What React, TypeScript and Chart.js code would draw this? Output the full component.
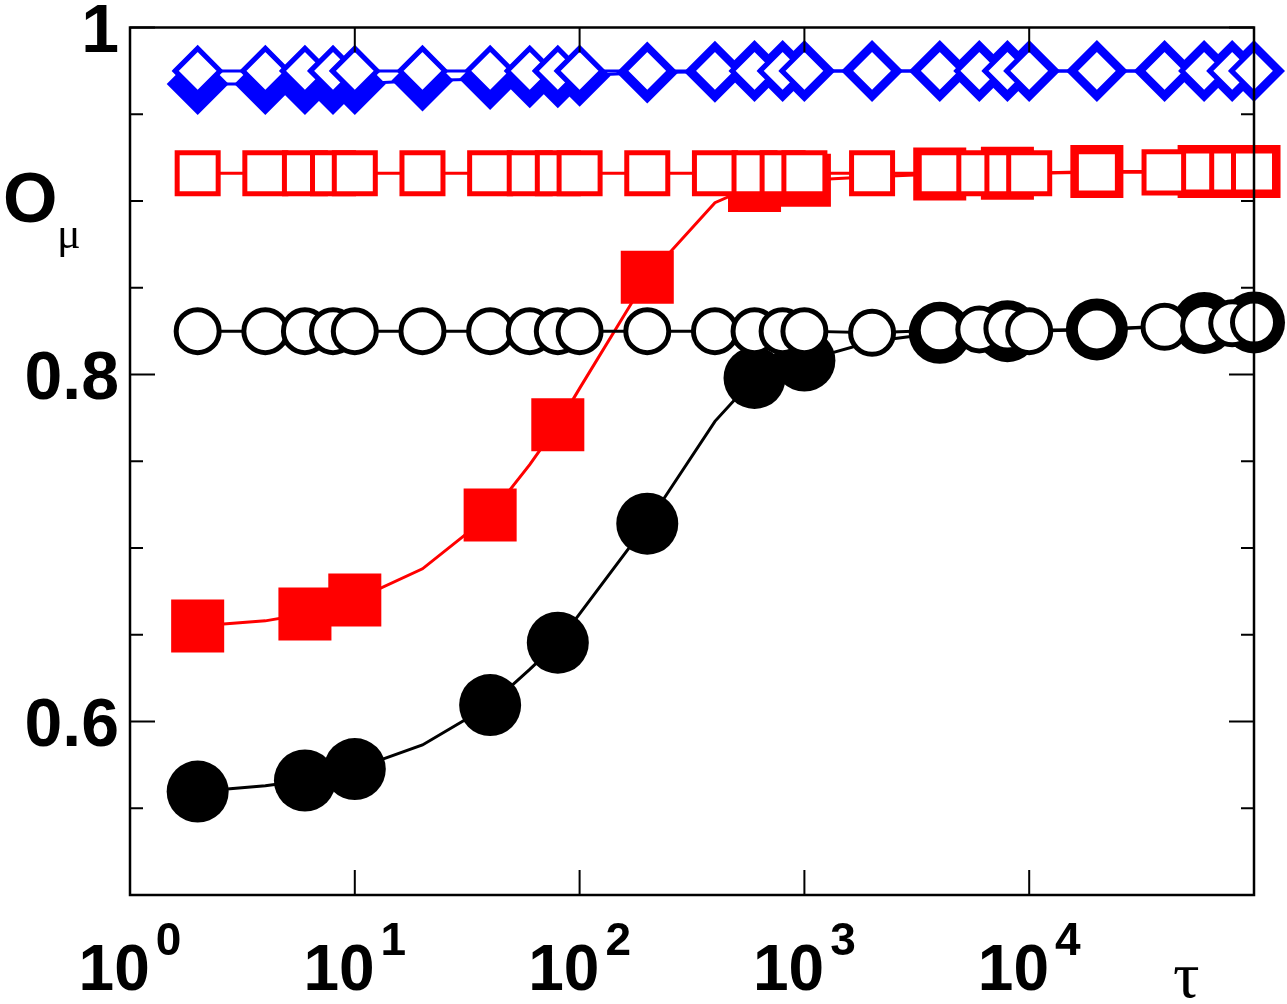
import React, { useEffect, useRef } from 'react';
import { Chart, registerables } from 'chart.js';
Chart.register(...registerables);

// ---- data ----
const tau = [2, 4, 6, 8, 10, 20, 40, 60, 80, 100, 200, 400, 600, 800, 1000, 2000, 4000, 6000, 8000, 10000, 20000, 40000, 60000, 80000, 100000];

const blueOpen = [0.975, 0.975, 0.975, 0.975, 0.975, 0.975, 0.975, 0.975, 0.975, 0.975, 0.975, 0.975, 0.975, 0.975, 0.975, 0.975, 0.975, 0.975, 0.975, 0.975, 0.975, 0.975, 0.975, 0.975, 0.975];
const blueFilled = [0.9675, 0.9675, 0.9675, 0.9675, 0.9675, 0.9694, 0.9703, 0.9713, 0.9713, 0.9722, 0.974, 0.9745, 0.975, 0.975, 0.975, 0.975, 0.975, 0.975, 0.975, 0.975, 0.975, 0.975, 0.975, 0.975, 0.975];

const redOpen = [0.916, 0.916, 0.916, 0.916, 0.916, 0.916, 0.916, 0.916, 0.916, 0.916, 0.916, 0.916, 0.916, 0.916, 0.916, 0.916, 0.916, 0.916, 0.916, 0.916, 0.9165, 0.9165, 0.917, 0.917, 0.917];
const redFilled = [0.655, 0.658, 0.662, 0.666, 0.67, 0.688, 0.719, 0.748, 0.771, 0.792, 0.856, 0.899, 0.909, 0.911, 0.912, 0.914, 0.9155, 0.916, 0.916, 0.916, 0.917, 0.917, 0.917, 0.917, 0.917];

const blackOpen = [0.825, 0.825, 0.825, 0.825, 0.825, 0.825, 0.825, 0.825, 0.825, 0.825, 0.825, 0.825, 0.825, 0.825, 0.825, 0.824, 0.8255, 0.826, 0.8265, 0.825, 0.826, 0.8275, 0.828, 0.8295, 0.83];
const blackFilled = [0.5596, 0.563, 0.566, 0.569, 0.5726, 0.5865, 0.6095, 0.63, 0.6454, 0.662, 0.714, 0.773, 0.798, 0.804, 0.808, 0.819, 0.824, 0.8245, 0.825, 0.8255, 0.826, 0.828, 0.8297, 0.83, 0.83];

// ---- axes ----
const xMin = 1;
const xMax = 100000;
const yMin = 0.5;
const yMax = 1.0;
const xMajorTicks = [1, 10, 100, 1000, 10000, 100000];
const xTickBase = ['10', '10', '10', '10', '10'];
const xTickExp = ['0', '1', '2', '3', '4'];
const yMajorTicks = [0.6, 0.8, 1.0];
const yMajorLabels = ['0.6', '0.8', '1'];
const yMinorTicks = [0.55, 0.65, 0.7, 0.75, 0.85, 0.9, 0.95];
const yTitle = 'O';
const yTitleSub = 'μ';
const xTitle = 'τ';

const SANS = '"Liberation Sans", Arial, Helvetica, sans-serif';
const SERIF = '"Liberation Serif", "DejaVu Serif", "Times New Roman", serif';

const pts = (ys: number[]) => tau.map((t, i) => ({ x: t, y: ys[i] }));
const skip = (r: number) => (c: any) => (c.dataIndex % 2 === 0 ? r : 0);

const framePlugin = {
  id: 'frame',
  afterDraw(chart: any) {
    const { ctx, chartArea: a, scales } = chart;
    const xs = scales.x;
    const ys = scales.y;
    ctx.save();
    ctx.strokeStyle = '#000';
    ctx.lineWidth = 2.5;
    ctx.strokeRect(a.left, a.top, a.right - a.left, a.bottom - a.top);
    ctx.lineWidth = 2;
    const majLen = 25;
    const minLen = 13;
    ctx.beginPath();
    yMajorTicks.forEach((v) => {
      const py = ys.getPixelForValue(v);
      ctx.moveTo(a.left, py); ctx.lineTo(a.left + majLen, py);
      ctx.moveTo(a.right, py); ctx.lineTo(a.right - majLen, py);
    });
    yMinorTicks.forEach((v) => {
      const py = ys.getPixelForValue(v);
      ctx.moveTo(a.left, py); ctx.lineTo(a.left + minLen, py);
      ctx.moveTo(a.right, py); ctx.lineTo(a.right - minLen, py);
    });
    xMajorTicks.forEach((v) => {
      const px = xs.getPixelForValue(v);
      ctx.moveTo(px, a.bottom); ctx.lineTo(px, a.bottom - majLen);
      ctx.moveTo(px, a.top); ctx.lineTo(px, a.top + majLen);
    });
    ctx.stroke();

    // y labels
    ctx.fillStyle = '#000';
    ctx.font = `bold 68px ${SANS}`;
    ctx.textAlign = 'right';
    ctx.textBaseline = 'alphabetic';
    yMajorTicks.forEach((v, i) => {
      const py = ys.getPixelForValue(v);
      ctx.fillText(yMajorLabels[i], a.left - 11, py + 24);
    });

    // x labels with superscripts
    ctx.textAlign = 'left';
    xTickExp.forEach((e, i) => {
      const px = xs.getPixelForValue(xMajorTicks[i]);
      ctx.font = `bold 64px ${SANS}`;
      const wb = ctx.measureText(xTickBase[i]).width;
      ctx.font = `bold 46px ${SANS}`;
      const we = ctx.measureText(e).width;
      const gap = 6;
      const start = px - (wb + gap + we) / 2;
      ctx.font = `bold 64px ${SANS}`;
      ctx.fillText(xTickBase[i], start, a.bottom + 95);
      ctx.font = `bold 46px ${SANS}`;
      ctx.fillText(e, start + wb + gap, a.bottom + 60);
    });

    // axis titles
    ctx.font = `bold 70px ${SANS}`;
    ctx.fillText(yTitle, 3, 222);
    ctx.font = `44px ${SERIF}`;
    ctx.fillText(yTitleSub, 57, 248);
    ctx.font = `66px ${SERIF}`;
    ctx.fillText(xTitle, 1173, 997);
    ctx.restore();
  },
};

export default function App() {
  const ref = useRef<HTMLCanvasElement>(null);
  useEffect(() => {
    const canvas = ref.current!;
    const common = { tension: 0, borderWidth: 3, clip: false as any, showLine: true };
    const chart = new Chart(canvas, {
      type: 'line',
      data: {
        datasets: [
          { ...common, data: pts(blueOpen), borderColor: '#0000ff', pointStyle: 'rectRot', pointRadius: 22.5, pointBorderWidth: 5, pointBorderColor: '#0000ff', pointBackgroundColor: '#ffffff' },
          { ...common, data: pts(redOpen), borderColor: '#ff0000', pointStyle: 'rect', pointRadius: 29, pointBorderWidth: 5, pointBorderColor: '#ff0000', pointBackgroundColor: '#ffffff' },
          { ...common, data: pts(blackOpen), borderColor: '#000000', pointStyle: 'circle', pointRadius: 21.5, pointBorderWidth: 5, pointBorderColor: '#000000', pointBackgroundColor: '#ffffff' },
          { ...common, data: pts(blueFilled), borderColor: '#0000ff', pointStyle: 'rectRot', pointRadius: 31, pointBorderWidth: 0, pointBackgroundColor: '#0000ff' },
          { ...common, data: pts(redFilled), borderColor: '#ff0000', pointStyle: 'rect', pointRadius: skip(37.5) as any, pointBorderWidth: 0, pointBackgroundColor: '#ff0000' },
          { ...common, data: pts(blackFilled), borderColor: '#000000', pointStyle: 'circle', pointRadius: skip(31) as any, pointBorderWidth: 0, pointBackgroundColor: '#000000' },
        ] as any,
      },
      options: {
        animation: false,
        responsive: false,
        events: [],
        layout: { autoPadding: false, padding: { left: 130, right: 33, top: 27.5, bottom: 109 } },
        plugins: { legend: { display: false }, tooltip: { enabled: false } },
        scales: {
          x: { type: 'logarithmic', min: xMin, max: xMax, display: false },
          y: { type: 'linear', min: yMin, max: yMax, display: false },
        },
      },
      plugins: [framePlugin],
    });
    return () => chart.destroy();
  }, []);
  return (
    <div style={{ position: 'fixed', left: 0, top: 0, width: 1287, height: 1004, background: '#ffffff' }}>
      <canvas ref={ref} width={1287} height={1004} style={{ width: 1287, height: 1004, display: 'block' }} />
    </div>
  );
}
